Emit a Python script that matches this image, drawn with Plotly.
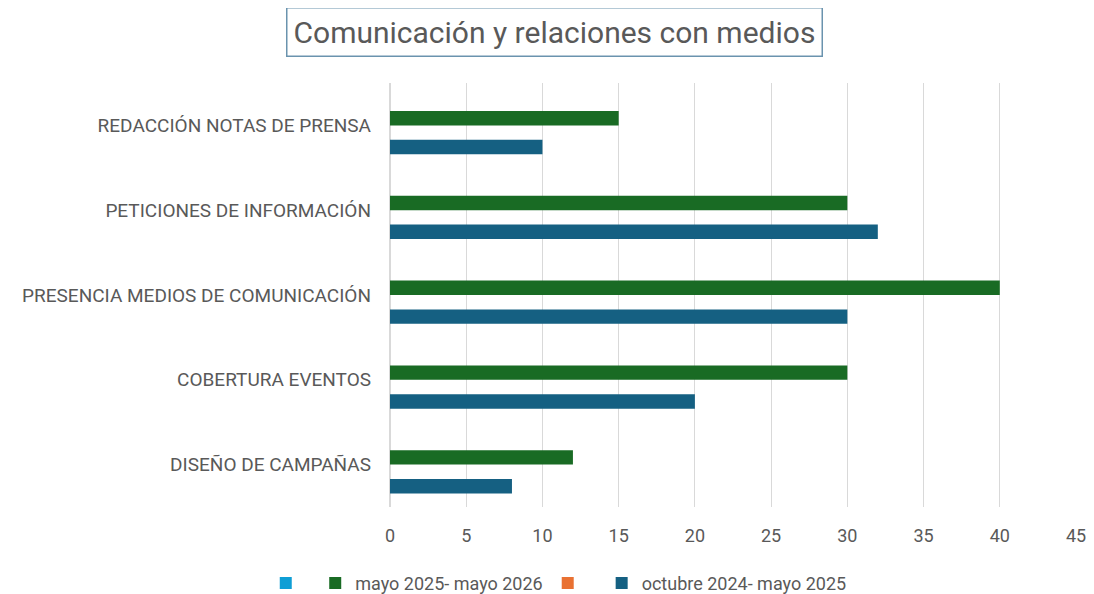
import plotly.graph_objects as go

categories = ["REDACCIÓN NOTAS DE PRENSA", "PETICIONES DE INFORMACIÓN",
              "PRESENCIA MEDIOS DE COMUNICACIÓN", "COBERTURA EVENTOS", "DISEÑO DE CAMPAÑAS"]
series_2025_2026 = [15, 30, 40, 30, 12]
series_2024_2025 = [10, 32, 30, 20, 8]
empty_series = [0, 0, 0, 0, 0]
x_ticks = [0, 5, 10, 15, 20, 25, 30, 35, 40, 45]

fig = go.Figure()
fig.add_trace(go.Bar(y=categories, x=empty_series, orientation="h", name=" ",
                     marker=dict(color="#0F9ED5", line=dict(width=0))))
fig.add_trace(go.Bar(y=categories, x=series_2025_2026, orientation="h",
                     name="mayo 2025- mayo 2026", marker=dict(color="#196B24", line=dict(width=0))))
fig.add_trace(go.Bar(y=categories, x=empty_series, orientation="h", name="  ",
                     marker=dict(color="#E97132", line=dict(width=0))))
fig.add_trace(go.Bar(y=categories, x=series_2024_2025, orientation="h",
                     name="octubre 2024- mayo 2025", marker=dict(color="#156082", line=dict(width=0))))

fig.update_layout(
    width=1086, height=586,
    margin=dict(l=382, r=18, t=74.5, b=86.5, autoexpand=False),
    paper_bgcolor="white", plot_bgcolor="white",
    barmode="group", bargap=0.32, bargroupgap=0,
    font=dict(family="Roboto", color="#595959"),
    showlegend=True,
    legend=dict(orientation="h", x=0.246, xanchor="center", y=-0.18, yanchor="middle",
                font=dict(size=18, color="#595959"), traceorder="normal"),
    annotations=[dict(text="Comunicación y relaciones con medios", xref="paper", yref="paper",
                      x=0.2405, y=1.0, xanchor="center", yanchor="middle",
                      showarrow=False, font=dict(size=30, color="#595959", family="Roboto"),
                      bordercolor="#6a93ae", borderwidth=1.5, borderpad=6, yshift=51)],
)
fig.update_xaxes(range=[0, 45], tickvals=x_ticks, showgrid=True, gridcolor="#d9d9d9",
                 zeroline=True, zerolinecolor="#d9d9d9", showline=False,
                 tickfont=dict(size=18, color="#595959"), ticklabelstandoff=16)
fig.update_yaxes(autorange="reversed", showgrid=False, showline=False,
                 tickfont=dict(size=19, color="#595959"), ticklabelstandoff=18)

fig.write_html("out.html")
